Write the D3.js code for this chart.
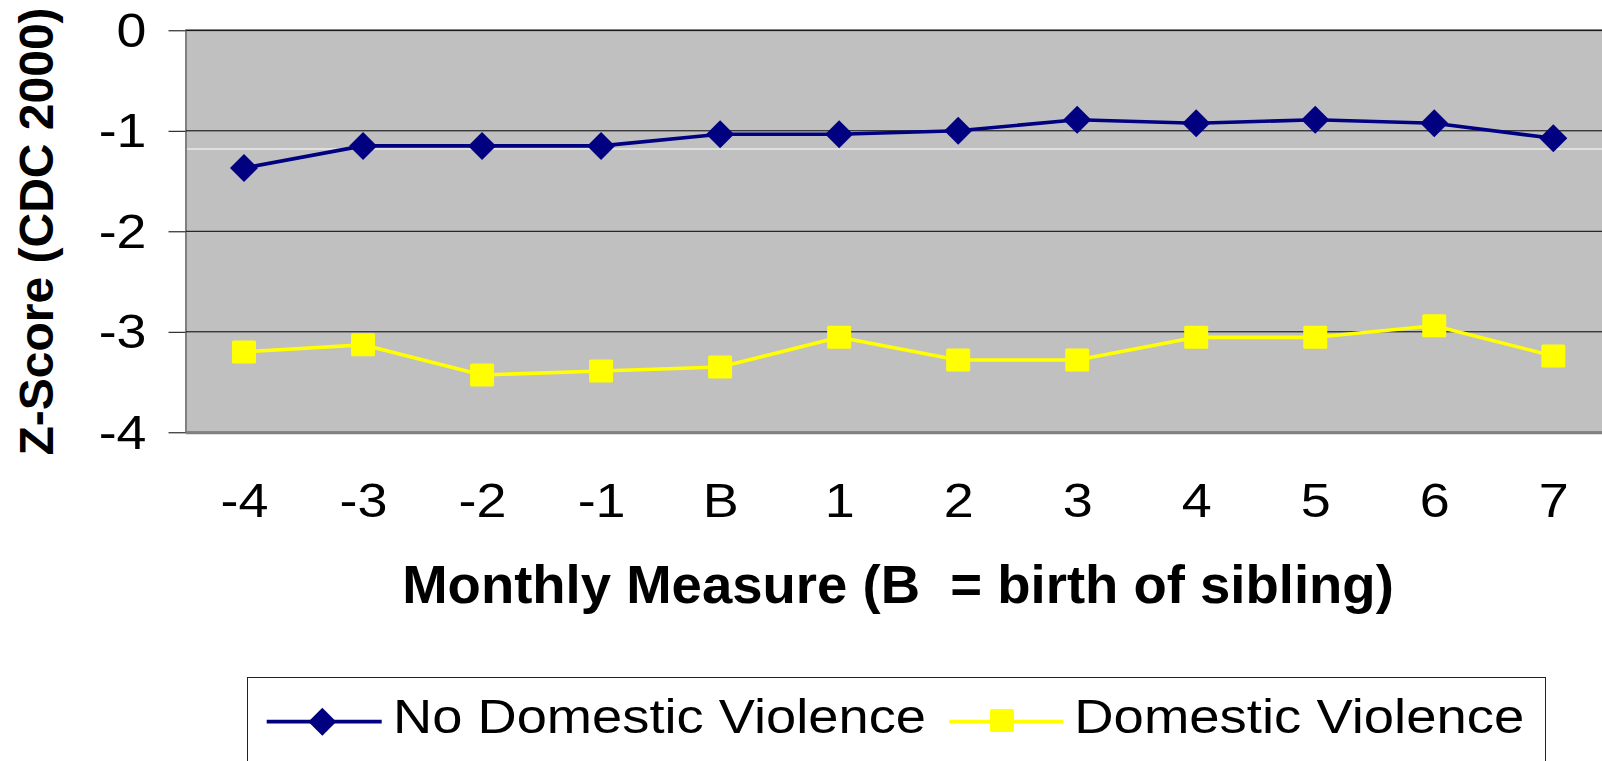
<!DOCTYPE html>
<html>
<head>
<meta charset="utf-8">
<script src="https://cdn.jsdelivr.net/npm/d3@7/dist/d3.min.js"></script>
<style>
  html, body { margin: 0; padding: 0; background: #ffffff; }
  svg { display: block; }
  text { font-family: "Liberation Sans", Arial, "DejaVu Sans", sans-serif; fill: #000; }
</style>
</head>
<body>
<svg id="chart" width="1602" height="761"></svg>
<script>
// ---- data ----
const categories = ["-4", "-3", "-2", "-1", "B", "1", "2", "3", "4", "5", "6", "7"];
const noDomesticViolence = [-1.37, -1.15, -1.15, -1.15, -1.035, -1.035, -1.0, -0.89, -0.925, -0.89, -0.925, -1.075];
const domesticViolence = [-3.20, -3.13, -3.43, -3.39, -3.35, -3.055, -3.28, -3.28, -3.055, -3.055, -2.94, -3.24];
const yTickValues = [0, -1, -2, -3, -4];
const seriesNames = ["No Domestic Violence", "Domestic Violence"];
const yTitle = "Z-Score (CDC 2000)";
const xTitle = "Monthly Measure (B  = birth of sibling)";
const artifactLineValue = -1.181; // thin white line visible in the source image

// ---- layout ----
const svg = d3.select("#chart");
const plotLeft = 186, plotRight = 1614, plotTop = 30.3, plotBottom = 432.3;

const x = d3.scalePoint().domain(categories).range([184.5, 1612.8]).padding(0.5);
const y = d3.scaleLinear().domain([-4, 0]).range([plotBottom, plotTop]);

// plot area
svg.append("rect")
  .attr("x", plotLeft).attr("y", plotTop)
  .attr("width", plotRight - plotLeft).attr("height", plotBottom - plotTop)
  .attr("fill", "#C0C0C0").attr("stroke", "#808080").attr("stroke-width", 2);

// gridlines
svg.append("g").selectAll("line").data(yTickValues.filter(v => v > -4)).join("line")
  .attr("x1", plotLeft).attr("x2", plotRight)
  .attr("y1", d => y(d)).attr("y2", d => y(d))
  .attr("stroke", "#000").attr("stroke-width", 1);

// white artifact line
svg.append("line")
  .attr("x1", plotLeft + 1).attr("x2", plotRight)
  .attr("y1", y(artifactLineValue)).attr("y2", y(artifactLineValue))
  .attr("stroke", "#ffffff").attr("stroke-width", 1);

// bottom axis line
svg.append("line")
  .attr("x1", plotLeft).attr("x2", plotRight)
  .attr("y1", plotBottom + 0.5).attr("y2", plotBottom + 0.5)
  .attr("stroke", "#808080").attr("stroke-width", 3);

// y axis
const yAxis = svg.append("g").attr("transform", `translate(${plotLeft - 0.5},0)`)
  .call(d3.axisLeft(y).tickValues(yTickValues).tickSize(17).tickFormat(d3.format("d")));
yAxis.select(".domain").remove();
yAxis.selectAll(".tick line").attr("stroke", "#000").attr("stroke-width", 1);
yAxis.selectAll(".tick text")
  .attr("x", null).attr("dy", "0.33em")
  .attr("transform", "translate(-39,0) scale(1.12,1)")
  .attr("text-anchor", "end")
  .style("font-size", "48px").text(d => d === 0 ? "0" : "-" + Math.abs(d));

// x axis labels
const xAxis = svg.append("g").attr("transform", `translate(0,${plotBottom})`)
  .call(d3.axisBottom(x).tickSize(0));
xAxis.select(".domain").remove();
xAxis.selectAll(".tick text")
  .attr("y", null).attr("dy", null)
  .attr("transform", "translate(0,84.7) scale(1.1,1)")
  .attr("text-anchor", "middle")
  .style("font-size", "49px");

// axis titles
svg.append("text")
  .attr("transform", `translate(53,231.5) rotate(-90)`)
  .attr("text-anchor", "middle")
  .style("font-size", "48px").style("font-weight", "bold")
  .text(yTitle);

svg.append("text")
  .attr("x", 898).attr("y", 603)
  .attr("text-anchor", "middle")
  .style("font-size", "54.5px").style("font-weight", "bold")
  .style("white-space", "pre")
  .text(xTitle);

// series
const diamond = "M0,-14L14,0L0,14L-14,0Z";
const seriesDefs = [
  { name: seriesNames[0], values: noDomesticViolence, color: "#000080", marker: "diamond" },
  { name: seriesNames[1], values: domesticViolence, color: "#FFFF00", marker: "square" }
];
const line = d3.line().x((d, i) => x(categories[i])).y(d => y(d));

function drawMarker(g, type, color) {
  if (type === "diamond") {
    g.append("path").attr("d", diamond).attr("fill", color);
  } else {
    g.append("rect").attr("x", -12).attr("y", -11.5).attr("width", 24).attr("height", 23)
      .attr("rx", 1.5).attr("fill", color);
  }
}

seriesDefs.forEach(s => {
  svg.append("path").datum(s.values)
    .attr("d", line).attr("fill", "none")
    .attr("stroke", s.color).attr("stroke-width", 3.6).attr("stroke-linejoin", "round");
  s.values.forEach((v, i) => {
    const g = svg.append("g").attr("transform", `translate(${x(categories[i])},${y(v)})`);
    drawMarker(g, s.marker, s.color);
  });
});

// legend
const legend = svg.append("g");
legend.append("rect")
  .attr("x", 247.5).attr("y", 677.5).attr("width", 1298).attr("height", 120)
  .attr("fill", "#fff").attr("stroke", "#222").attr("stroke-width", 1);

const legendItems = [
  { s: seriesDefs[0], x1: 266.7, x2: 381.7, mx: 322.3, tx: 393, tl: 533 },
  { s: seriesDefs[1], x1: 949.3, x2: 1063.3, mx: 1002, tx: 1074.3, tl: 450 }
];
legendItems.forEach(it => {
  legend.append("line").attr("x1", it.x1).attr("x2", it.x2)
    .attr("y1", 721.7).attr("y2", 721.7)
    .attr("stroke", it.s.color).attr("stroke-width", 3.8);
  const g = legend.append("g").attr("transform", `translate(${it.mx},${it.s.marker === "diamond" ? 721.7 : 720.5})`);
  drawMarker(g, it.s.marker, it.s.color);
  legend.append("text").attr("x", it.tx).attr("y", 733.3)
    .attr("textLength", it.tl).attr("lengthAdjust", "spacingAndGlyphs")
    .style("font-size", "49px").text(it.s.name);
});
</script>
</body>
</html>
